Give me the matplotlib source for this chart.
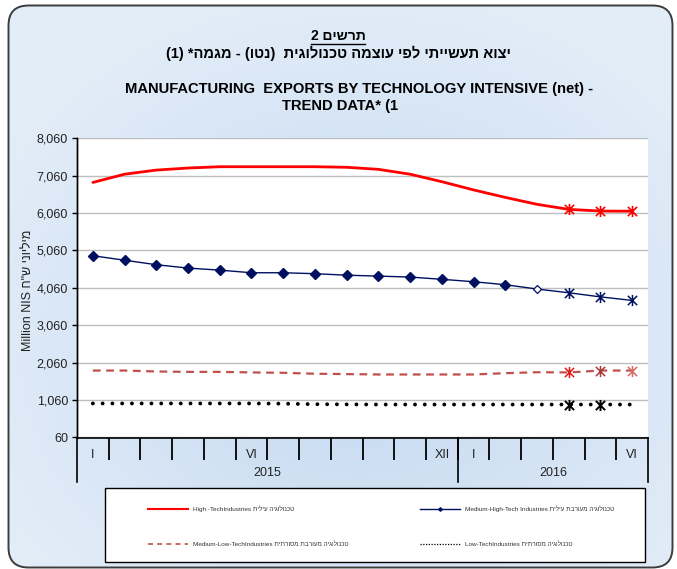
import matplotlib
matplotlib.use('Agg')
import matplotlib.pyplot as plt
import numpy as np
from matplotlib.patches import FancyBboxPatch, Rectangle
from matplotlib.path import Path
from matplotlib.lines import Line2D
import matplotlib.transforms as mtransforms

plt.rcParams['font.family'] = ['Liberation Sans', 'DejaVu Sans']

# ---------------- data ----------------
months = ['I', '', '', '', '', 'VI', '', '', '', '', '', 'XII',
          'I', '', '', '', '', 'VI']
years = ['2015', '2016']
year_first = [0, 12]
year_last = [11, 17]

high_tech = [6880, 7100, 7210, 7265, 7300, 7300, 7300, 7300, 7285, 7230,
             7100, 6900, 6680, 6480, 6295, 6160, 6115, 6110]
med_high = [4920, 4800, 4680, 4590, 4535, 4465, 4465, 4440, 4400, 4375,
            4350, 4290, 4225, 4145, 4030, 3930, 3820, 3725]
med_low = [1850, 1850, 1825, 1815, 1815, 1800, 1790, 1765, 1755, 1745,
           1745, 1745, 1745, 1780, 1805, 1800, 1850, 1850]
low_tech = [970, 970, 970, 970, 970, 970, 965, 950, 945, 942,
            942, 942, 942, 942, 942, 942, 942, 942]

yticks = [60, 1060, 2060, 3060, 4060, 5060, 6060, 7060, 8060]

labels_en = ['High -TechIndustries', 'Medium-High-Tech Industries',
             'Medium-Low-TechIndustries', 'Low-TechIndustries']
labels_he = ['טכנולוגיה עילית', 'טכנולוגיה מעורבת עילית',
             'טכנולוגיה מעורבת מסורתית', 'טכנולוגיה מסורתית']

title_he1 = 'תרשים 2'
title_he2 = 'יצוא תעשייתי לפי עוצמה טכנולוגית  (נטו) - מגמה* (1)'
title_en1 = 'MANUFACTURING  EXPORTS BY TECHNOLOGY INTENSIVE (net) -'
title_en2 = 'TREND DATA* (1'
ylabel_en = 'Million NIS'
ylabel_he = 'מיליוני ש"ח'


def vis(s):
    """Convert logical RTL text into visual (left-to-right) order."""
    swap = {'(': ')', ')': '('}
    return ''.join(swap.get(c, c) for c in s[::-1])


W, H = 677, 569
fig = plt.figure(figsize=(W / 100, H / 100), dpi=100)
fig.patch.set_facecolor('white')

# ---------------- background (rounded panel with gradient) ----------------
bg = fig.add_axes([0, 0, 1, 1], zorder=-10)
bg.set_xlim(0, W)
bg.set_ylim(H, 0)
bg.axis('off')
yy, xx = np.mgrid[0:H, 0:W]
r = np.sqrt(((xx - 360) / 420.0) ** 2 + ((yy - 340) / 360.0) ** 2)
r = np.clip(r, 0, 1)
c0 = np.array([0xC3, 0xD8, 0xF1]) / 255.0
c1 = np.array([0xE3, 0xED, 0xF8]) / 255.0
img = c0[None, None, :] * (1 - r[..., None]) + c1[None, None, :] * r[..., None]
panel = FancyBboxPatch((8.5, 5.5), 664, 562,
                       boxstyle='round,pad=0,rounding_size=20',
                       fc='none', ec='#3c3c3c', lw=1.4, zorder=3)
bg.add_patch(panel)
im = bg.imshow(img, extent=(0, W, H, 0), aspect='auto', zorder=1)
im.set_clip_path(panel)
bg.set_xlim(0, W)
bg.set_ylim(H, 0)
# legend frame
bg.add_patch(Rectangle((105, 488), 540, 74, fc='white', ec='black', lw=1.0, zorder=4))

# ---------------- main axes ----------------
ax_top, ax_bot = 138.3, 437.5
ax = fig.add_axes([77 / W, 1 - ax_bot / H, (648 - 77) / W, (ax_bot - ax_top) / H])
ax.set_facecolor('white')
x = np.arange(len(months))

navy = '#001060'
red = '#FF0000'
mlcol = '#C0504D'

star = Path([(-1, -1), (1, 1), (-1, 1), (1, -1), (0, -1.2), (0, 1.2)],
            [Path.MOVETO, Path.LINETO] * 3)

# High-tech
ax.plot(x, high_tech, color=red, lw=2.0, zorder=5, solid_capstyle='round')
ax.plot(x[15:], high_tech[15:], ls='none', marker=star, ms=8, mec=red, mfc='none',
        mew=1.2, zorder=6)

# Medium-high tech
ax.plot(x, med_high, color=navy, lw=1.0, zorder=5)
ax.plot(x[:14], med_high[:14], ls='none', marker='D', ms=5, mec=navy, mfc=navy, zorder=6)
ax.plot(x[14:15], med_high[14:15], ls='none', marker='D', ms=4, mec=navy, mfc='white',
        mew=0.9, zorder=6)
ax.plot(x[15:], med_high[15:], ls='none', marker=star, ms=8, mec=navy, mfc='none',
        mew=1.1, zorder=6)

# Medium-low tech
ax.plot(x, med_low, color=mlcol, lw=1.6, ls=(0, (3.5, 2.5)), zorder=5)
for i, c in zip(range(15, 18), ['#E81818', '#A83A36', '#D86A68']):
    ax.plot([x[i]], [med_low[i]], ls='none', marker=star, ms=8, mec=c, mfc='none',
            mew=1.1, zorder=6)

# Low tech
ax.plot(x, low_tech, color='black', lw=2.8, ls=(0, (0.01, 2.5)),
        dash_capstyle='round', zorder=5)
ax.plot(x[15:17], low_tech[15:17], ls='none', marker=star, ms=8, mec='black',
        mfc='none', mew=1.4, zorder=6)

ax.set_xlim(-0.5, len(months) - 0.5)
ax.set_ylim(yticks[0], yticks[-1])
ax.set_yticks(yticks)
ax.set_yticklabels([f'{v:,}' for v in yticks])
ax.grid(axis='y', color='#BEBEBE', lw=1.0)
ax.set_axisbelow(True)
for s in ['top', 'right']:
    ax.spines[s].set_visible(False)
ax.spines['left'].set_color('black')
ax.spines['bottom'].set_color('black')
ax.spines['left'].set_linewidth(1.0)
ax.spines['bottom'].set_linewidth(1.2)
ax.tick_params(axis='y', direction='out', length=3.5, width=1.0, labelsize=9,
               pad=3, colors='black', labelcolor='#222222')

# category boundaries as major ticks, month labels as minor ticks
ax.set_xticks(np.arange(0.5, len(months) - 1, 1.0))
ax.set_xticklabels([])
ax.tick_params(axis='x', which='major', direction='out', length=16, width=1.3,
               color='black')
ax.set_xticks(x, minor=True)
ax.set_xticklabels(months, minor=True)
ax.tick_params(axis='x', which='minor', length=0, pad=8, labelsize=9,
               labelcolor='#222222')

trans = mtransforms.blended_transform_factory(ax.transData, ax.transAxes)
ext = 44.0 / (ax_bot - ax_top)
for xb in [-0.5, 11.5, 17.5]:
    ax.plot([xb, xb], [0, -ext], transform=trans, color='black', lw=1.2,
            clip_on=False)
ax.plot([-0.5, -0.5], [0, 1], transform=trans, color='black', lw=1.0, clip_on=False)
for lab, a, b in zip(years, year_first, year_last):
    ax.text((a + b) / 2.0, -35.5 / (ax_bot - ax_top), lab, transform=trans,
            ha='center', va='center', fontsize=9, color='#222222')

# ---------------- titles ----------------
t1 = fig.text(338 / W, 1 - 36 / H, vis(title_he1), ha='center', va='center',
              fontsize=10, fontweight='bold')
fig.text(338 / W, 1 - 53.5 / H, vis(title_he2), ha='center', va='center',
         fontsize=10.5, fontweight='bold')
fig.text(359 / W, 1 - 89 / H, title_en1, ha='center', va='center',
         fontsize=10.6, fontweight='bold')
fig.text(340 / W, 1 - 106 / H, title_en2, ha='center', va='center',
         fontsize=10.6, fontweight='bold')
fig.text(28 / W, 1 - 290 / H, ylabel_en + ' ' + vis(ylabel_he), rotation=90,
         ha='center', va='center', fontsize=9, color='#222222')

# ---------------- legend ----------------
h_high = Line2D([], [], color=red, lw=1.5)
h_mh = Line2D([], [], color=navy, lw=1.0, marker='D', ms=1.8)
h_ml = Line2D([], [], color=mlcol, lw=1.2, ls=(0, (3, 2.5)))
h_low = Line2D([], [], color='black', lw=0.9, ls=(0, (1, 1.2)))
lab = [e + ' ' + vis(h) for e, h in zip(labels_en, labels_he)]
common = dict(frameon=False, fontsize=4.6, handlelength=6.2, handletextpad=0.8,
              labelspacing=4.6, borderpad=0, borderaxespad=0, loc='upper left',
              labelcolor='#333333')
fig.legend([h_high, h_ml], [lab[0], lab[2]], bbox_to_anchor=(148 / W, 1 - 506 / H),
           **common)
fig.legend([h_mh, h_low], [lab[1], lab[3]], bbox_to_anchor=(420 / W, 1 - 506 / H),
           **common)

# underline for the figure number
fig.canvas.draw()
bb = t1.get_window_extent()
ypix = bb.y0 - 1
fig.add_artist(Line2D([bb.x0 / W, bb.x1 / W], [ypix / H, ypix / H],
                      transform=fig.transFigure, color='black', lw=1.0))

fig.savefig('out.png', dpi=100)
